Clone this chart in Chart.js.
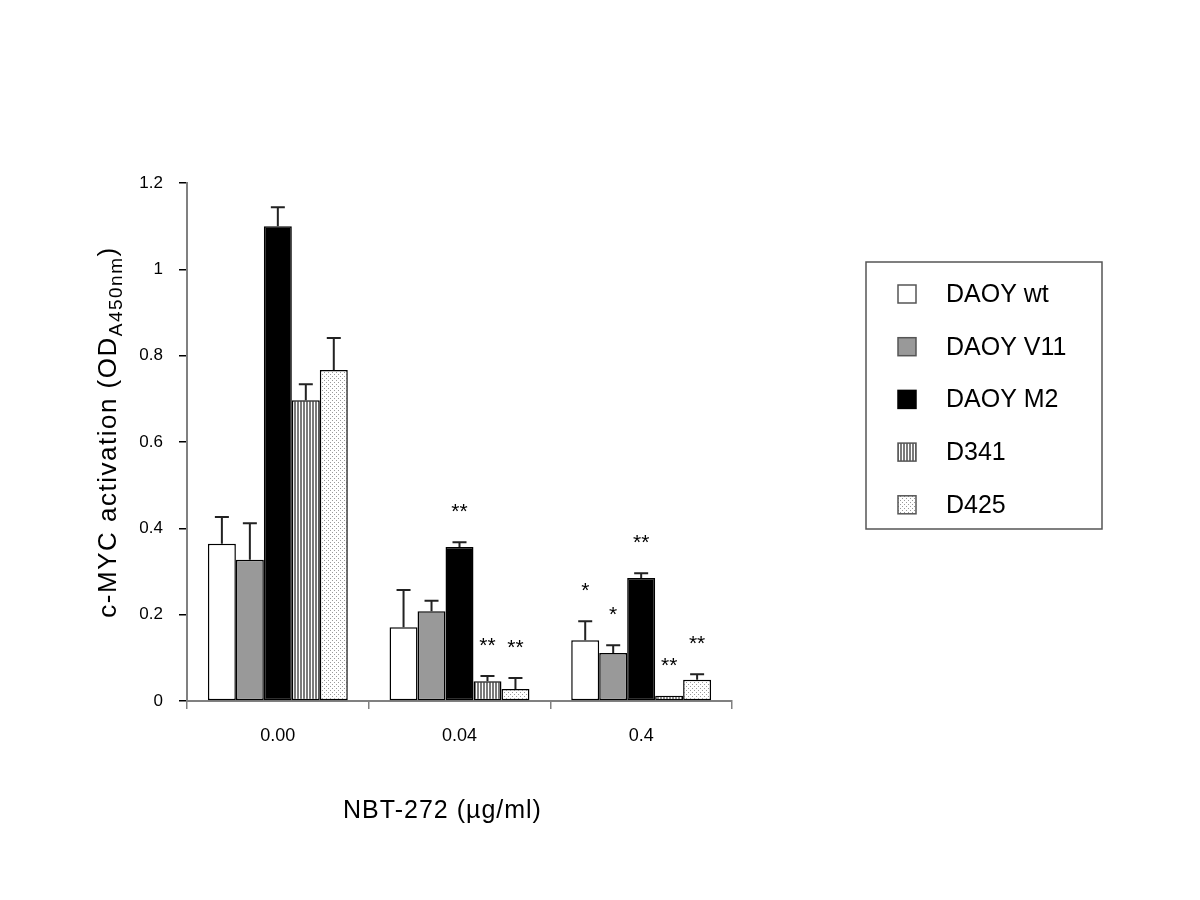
<!DOCTYPE html>
<html>
<head>
<meta charset="utf-8">
<script src="https://cdn.jsdelivr.net/npm/chart.js@4/dist/chart.umd.min.js"></script>
<style>
  body { margin: 0; background: #fff; }
  canvas { display: block; }
</style>
</head>
<body>
<canvas id="chart" width="1200" height="900"></canvas>
<script>
const doses = ['0.00', '0.04', '0.4'];
const seriesNames = ['DAOY wt', 'DAOY V11', 'DAOY M2', 'D341', 'D425'];

const wtValues = [0.364, 0.171, 0.141];
const v11Values = [0.327, 0.208, 0.111];
const m2Values = [1.100, 0.357, 0.285];
const d341Values = [0.697, 0.046, 0.012];
const d425Values = [0.767, 0.028, 0.049];

const wtErr = [0.062, 0.086, 0.044];
const v11Err = [0.085, 0.024, 0.018];
const m2Err = [0.044, 0.011, 0.011];
const d341Err = [0.037, 0.012, 0];
const d425Err = [0.074, 0.025, 0.013];

const wtSig = ['', '', '*'];
const v11Sig = ['', '', '*'];
const m2Sig = ['', '**', '**'];
const d341Sig = ['', '**', '**'];
const d425Sig = ['', '**', '**'];

const yTicks = [0, 0.2, 0.4, 0.6, 0.8, 1, 1.2];

const FONT = '"Liberation Sans", Arial, sans-serif';

function stripePattern() {
  const c = document.createElement('canvas');
  c.width = 3; c.height = 3;
  const g = c.getContext('2d');
  g.fillStyle = '#fff';
  g.fillRect(0, 0, 3, 3);
  g.fillStyle = '#7a7a7a';
  g.fillRect(0, 0, 2, 3);
  return g.createPattern(c, 'repeat');
}

function dotPattern() {
  const c = document.createElement('canvas');
  c.width = 4; c.height = 4;
  const g = c.getContext('2d');
  g.fillStyle = '#fff';
  g.fillRect(0, 0, 4, 4);
  g.fillStyle = '#9a9a9a';
  g.fillRect(0, 0, 1, 1);
  g.fillRect(2, 2, 1, 1);
  return g.createPattern(c, 'repeat');
}

const fills = ['#ffffff', '#999999', '#000000', stripePattern(), dotPattern()];
const values = [wtValues, v11Values, m2Values, d341Values, d425Values];
const errors = [wtErr, v11Err, m2Err, d341Err, d425Err];
const sigs = [wtSig, v11Sig, m2Sig, d341Sig, d425Sig];

// error bars (upper only) and significance stars
const errorBarPlugin = {
  id: 'errorBars',
  afterDatasetsDraw(chart) {
    const ctx = chart.ctx;
    const y = chart.scales.y;
    ctx.save();
    chart.data.datasets.forEach((ds, di) => {
      const meta = chart.getDatasetMeta(di);
      meta.data.forEach((bar, i) => {
        const top = y.getPixelForValue(ds.data[i]);
        const end = y.getPixelForValue(ds.data[i] + ds.errors[i]);
        if (ds.errors[i] > 0) {
          ctx.strokeStyle = '#222';
          ctx.lineWidth = 2;
          ctx.beginPath();
          ctx.moveTo(bar.x, top);
          ctx.lineTo(bar.x, end);
          ctx.moveTo(bar.x - 7, end);
          ctx.lineTo(bar.x + 7, end);
          ctx.stroke();
        }
        if (ds.sig[i]) {
          ctx.fillStyle = '#000';
          ctx.font = '21px ' + FONT;
          ctx.textAlign = 'center';
          ctx.textBaseline = 'middle';
          ctx.fillText(ds.sig[i], bar.x, end - 30);
        }
      });
    });
    ctx.restore();
  }
};

// axis titles and the boxed legend
const decorPlugin = {
  id: 'decor',
  afterDraw(chart) {
    const ctx = chart.ctx;
    const area = chart.chartArea;
    ctx.save();
    ctx.fillStyle = '#000';
    ctx.letterSpacing = '1.5px';

    // y title with subscript
    const main = 'c-MYC activation (OD';
    const sub = 'A450nm';
    const close = ')';
    ctx.font = '26px ' + FONT;
    const wMain = ctx.measureText(main).width;
    const wClose = ctx.measureText(close).width;
    ctx.font = '19px ' + FONT;
    const wSub = ctx.measureText(sub).width;
    const total = wMain + wSub + wClose;
    ctx.translate(116, (area.top + area.bottom) / 2 - 10);
    ctx.rotate(-Math.PI / 2);
    ctx.textAlign = 'left';
    ctx.textBaseline = 'alphabetic';
    let x = -total / 2;
    ctx.font = '26px ' + FONT;
    ctx.fillText(main, x, 0);
    x += wMain;
    ctx.font = '19px ' + FONT;
    ctx.fillText(sub, x, 6);
    x += wSub;
    ctx.font = '26px ' + FONT;
    ctx.fillText(close, x, 0);
    ctx.setTransform(1, 0, 0, 1, 0, 0);

    // x title
    ctx.letterSpacing = '1px';
    ctx.font = '25px ' + FONT;
    ctx.textAlign = 'center';
    ctx.fillText('NBT-272 (\u00b5g/ml)', (area.left + area.right) / 2 - 17, 818);
    ctx.letterSpacing = '0px';

    // legend
    ctx.strokeStyle = '#555';
    ctx.lineWidth = 1.5;
    ctx.strokeRect(866, 262, 236, 267);
    ctx.font = '25px ' + FONT;
    ctx.textAlign = 'left';
    ctx.textBaseline = 'middle';
    chart.data.datasets.forEach((ds, di) => {
      const cy = 294 + di * 52.7;
      ctx.fillStyle = ds.backgroundColor;
      ctx.fillRect(898, cy - 9, 18, 18);
      ctx.strokeStyle = di === 2 ? '#000' : '#555';
      ctx.strokeRect(898, cy - 9, 18, 18);
      ctx.fillStyle = '#000';
      ctx.fillText(ds.label, 946, cy + 1);
    });
    ctx.restore();
  }
};

function buildDatasets() {
  return seriesNames.map((name, i) => ({
    label: name,
    data: values[i],
    errors: errors[i],
    sig: sigs[i],
    backgroundColor: fills[i],
    borderColor: '#000',
    borderWidth: 1.5,
    borderSkipped: false
  }));
}

function drawChart() {
  const ctx = document.getElementById('chart').getContext('2d');
  new Chart(ctx, {
    type: 'bar',
    data: { labels: doses, datasets: buildDatasets() },
    options: {
      responsive: false,
      animation: false,
      devicePixelRatio: 1,
      layout: { padding: { left: 0, top: 183, right: 468, bottom: 139 } },
      plugins: { legend: { display: false }, tooltip: { enabled: false } },
      datasets: { bar: { categoryPercentage: 0.77, barPercentage: 1 } },
      scales: {
        x: {
          afterFit(scale) { scale.height = 60; },
          grid: { drawOnChartArea: false, color: '#808080', tickLength: 8, lineWidth: 1.5, offset: true },
          border: { color: '#808080', width: 2 },
          ticks: { color: '#000', font: { family: FONT, size: 18 }, padding: 16 }
        },
        y: {
          min: 0,
          max: 1.2,
          afterFit(scale) { scale.width = 187; },
          afterBuildTicks(scale) { scale.ticks = yTicks.map(v => ({ value: v })); },
          grid: { drawOnChartArea: false, color: '#000', tickLength: 8, lineWidth: 1.5 },
          border: { color: '#808080', width: 2 },
          ticks: {
            color: '#000',
            font: { family: FONT, size: 17 },
            padding: 16,
            callback: (v) => String(v)
          }
        }
      }
    },
    plugins: [errorBarPlugin, decorPlugin]
  });
}

document.addEventListener('DOMContentLoaded', () => {
  drawChart();
});
</script>
</body>
</html>
